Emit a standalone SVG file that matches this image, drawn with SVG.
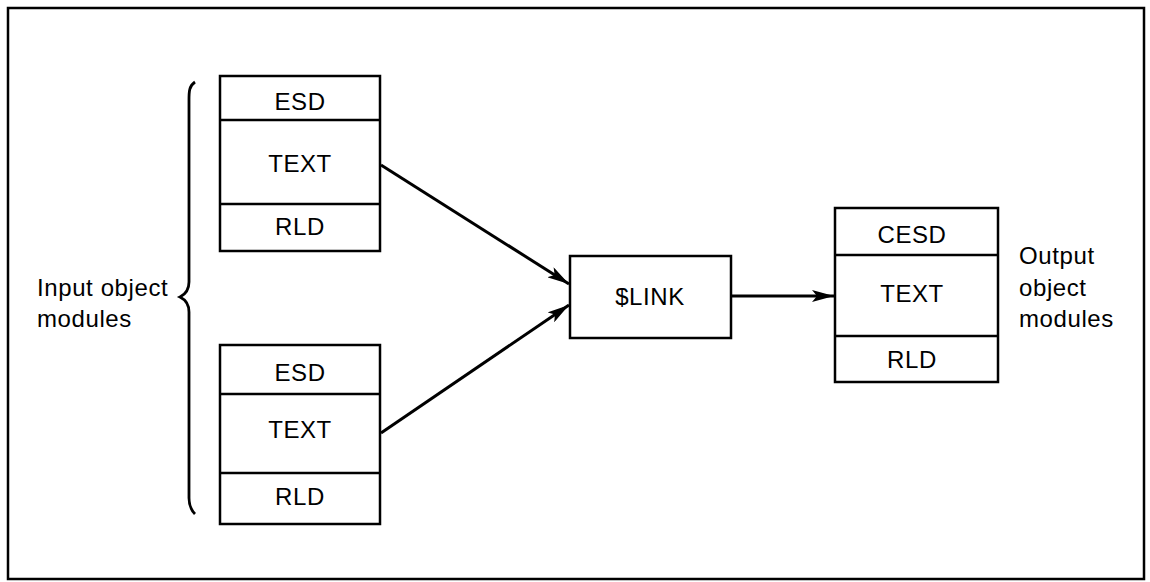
<svg xmlns="http://www.w3.org/2000/svg" width="1150" height="582" viewBox="0 0 1150 582">
  <style>
    .box { fill: #fff; stroke: #000; stroke-width: 2.5; }
    .div { stroke: #000; stroke-width: 2.5; }
    .lbl { font-family: "Liberation Sans", Arial, sans-serif; font-size: 24px; letter-spacing: 0.6px; fill: #000; }
    .c { text-anchor: middle; }
    .conn { stroke: #000; stroke-width: 3; fill: none; }
  </style>
  <defs>
    <marker id="arrow" viewBox="0 0 22 12" refX="22" refY="6" markerWidth="22" markerHeight="12" markerUnits="userSpaceOnUse" orient="auto">
      <path d="M0,0 L22,6 L0,12 L5,6 Z" fill="#000"/>
    </marker>
  </defs>

  <!-- outer frame -->
  <rect x="8" y="8" width="1136" height="571" fill="none" stroke="#000" stroke-width="2.5"/>

  <!-- bracket and label for the input modules -->
  <g id="input-label">
    <path d="M195,82 C189,86 189,92 189,100 L189,282 C189,290 186,294 180,297 C186,300 189,304 189,312 L189,498 C189,506 191,510 195,514" fill="none" stroke="#000" stroke-width="2.8"/>
    <text class="lbl" x="37" y="296">Input object</text>
    <text class="lbl" x="37" y="327">modules</text>
  </g>

  <g id="input-module-1">
    <rect class="box" x="220" y="76" width="160" height="175"/>
    <line class="div" x1="220" y1="120" x2="380" y2="120"/>
    <line class="div" x1="220" y1="204" x2="380" y2="204"/>
    <text class="lbl c" x="300" y="110">ESD</text>
    <text class="lbl c" x="300" y="172">TEXT</text>
    <text class="lbl c" x="300" y="235">RLD</text>
  </g>

  <g id="input-module-2">
    <rect class="box" x="220" y="345" width="160" height="179"/>
    <line class="div" x1="220" y1="394" x2="380" y2="394"/>
    <line class="div" x1="220" y1="473" x2="380" y2="473"/>
    <text class="lbl c" x="300" y="381">ESD</text>
    <text class="lbl c" x="300" y="438">TEXT</text>
    <text class="lbl c" x="300" y="505">RLD</text>
  </g>

  <g id="link">
    <rect class="box" x="570" y="256" width="161" height="82"/>
    <text class="lbl c" x="650" y="305">$LINK</text>
  </g>

  <g id="output-module">
    <rect class="box" x="835" y="208" width="163" height="174"/>
    <line class="div" x1="835" y1="255" x2="998" y2="255"/>
    <line class="div" x1="835" y1="336" x2="998" y2="336"/>
    <text class="lbl c" x="912" y="243">CESD</text>
    <text class="lbl c" x="912" y="302">TEXT</text>
    <text class="lbl c" x="912" y="368">RLD</text>
  </g>

  <g id="output-label">
    <text class="lbl" x="1019" y="264">Output</text>
    <text class="lbl" x="1019" y="296">object</text>
    <text class="lbl" x="1019" y="327">modules</text>
  </g>

  <g id="connectors">
    <line class="conn" x1="381" y1="165" x2="569" y2="284" marker-end="url(#arrow)"/>
    <line class="conn" x1="381" y1="433" x2="569" y2="305" marker-end="url(#arrow)"/>
    <line class="conn" x1="732" y1="296" x2="834" y2="296" marker-end="url(#arrow)"/>
  </g>
</svg>
